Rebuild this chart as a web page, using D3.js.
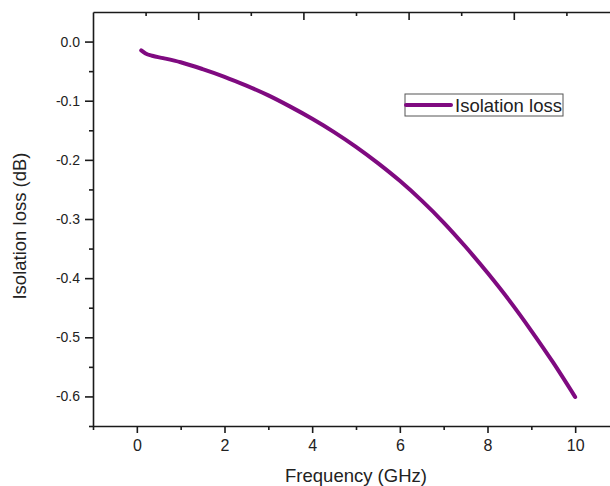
<!DOCTYPE html>
<html>
<head>
<meta charset="utf-8">
<script src="https://cdn.jsdelivr.net/npm/d3@7"></script>
<style>
  html, body { margin: 0; padding: 0; background: #fff; }
  svg { display: block; font-family: Arial, "Liberation Sans", sans-serif; }
</style>
</head>
<body>
<svg id="chart" width="610" height="486"></svg>
<script>
// Isolation loss vs. frequency
const freqGHz = [0.1, 0.2, 0.35, 0.6, 1.0, 1.5, 2.0, 2.5, 3.0, 3.5, 4.0, 4.5, 5.0, 5.5, 6.0, 6.5, 7.0, 7.5, 8.0, 8.5, 9.0, 9.5, 10.0];
const isolationDb = [-0.015, -0.020, -0.024, -0.028, -0.035, -0.0465, -0.0595, -0.0745, -0.091, -0.110, -0.1305, -0.153, -0.178, -0.2055, -0.2355, -0.269, -0.306, -0.347, -0.391, -0.438, -0.489, -0.543, -0.601];

const xMajorTicks = [0, 2, 4, 6, 8, 10];
const xMinorTicks = [-1, 1, 3, 5, 7, 9, 11];
const yMajorTicks = [0.0, -0.1, -0.2, -0.3, -0.4, -0.5, -0.6];
const yMinorTicks = [-0.05, -0.15, -0.25, -0.35, -0.45, -0.55, -0.65];
const topMajorTicks = [2, 4, 6, 8, 10];
const topMinorTicks = [1, 3, 5, 7, 9];

const seriesName = "Isolation loss";
const xTitle = "Frequency (GHz)";
const yTitle = "Isolation loss (dB)";

const svg = d3.select("#chart");
const plotLeft = 93, plotRight = 619, plotTop = 12, plotBottom = 426;
const ink = "#1a1a1a";
const purple = "#7f0a80";

const x = d3.scaleLinear().domain([-1, 11]).range([plotLeft, plotRight]);
const xTop = d3.scaleLinear().domain([0, 10]).range([plotLeft, plotRight]);
const y = d3.scaleLinear().domain([-0.65, 0.05]).range([plotBottom, plotTop]);

// plain hyphen for negative numbers
const fmtY = d => d3.format(".1f")(d).replace("\u2212", "-");

function styleAxis(g, fontSize) {
  g.select(".domain").attr("stroke", ink).attr("stroke-width", 1.6);
  g.selectAll(".tick line").attr("stroke", ink).attr("stroke-width", 1.6);
  g.selectAll(".tick text").attr("fill", "#222").attr("font-size", fontSize)
    .attr("font-family", "Arial, 'Liberation Sans', sans-serif");
}

// bottom axis
svg.append("g").attr("transform", `translate(0,${plotBottom})`)
  .call(d3.axisBottom(x).tickValues(xMajorTicks).tickFormat(d3.format("d"))
    .tickSize(7).tickSizeOuter(0).tickPadding(7))
  .call(g => styleAxis(g, 16));
svg.append("g").attr("transform", `translate(0,${plotBottom})`)
  .call(d3.axisBottom(x).tickValues(xMinorTicks).tickFormat("").tickSize(4).tickSizeOuter(0))
  .call(g => { styleAxis(g, 16); g.select(".domain").remove(); });

// top axis (ticks pointing inward)
svg.append("g").attr("transform", `translate(0,${plotTop})`)
  .call(d3.axisTop(xTop).tickValues(topMajorTicks).tickFormat("").tickSize(-8).tickSizeOuter(0))
  .call(g => styleAxis(g, 16));
svg.append("g").attr("transform", `translate(0,${plotTop})`)
  .call(d3.axisTop(xTop).tickValues(topMinorTicks).tickFormat("").tickSize(-4).tickSizeOuter(0))
  .call(g => { styleAxis(g, 16); g.select(".domain").remove(); });

// left axis
svg.append("g").attr("transform", `translate(${plotLeft},0)`)
  .call(d3.axisLeft(y).tickValues(yMajorTicks).tickFormat(fmtY)
    .tickSize(8).tickSizeOuter(0).tickPadding(5))
  .call(g => styleAxis(g, 14));
svg.append("g").attr("transform", `translate(${plotLeft},0)`)
  .call(d3.axisLeft(y).tickValues(yMinorTicks).tickFormat("").tickSize(4).tickSizeOuter(0))
  .call(g => { styleAxis(g, 14); g.select(".domain").remove(); });

// curve
const line = d3.line().x((d, i) => x(freqGHz[i])).y(d => y(d)).curve(d3.curveMonotoneX);
svg.append("path").datum(isolationDb)
  .attr("d", line)
  .attr("fill", "none")
  .attr("stroke", purple)
  .attr("stroke-width", 4)
  .attr("stroke-linecap", "round")
  .attr("stroke-linejoin", "round");

// axis titles
svg.append("text")
  .attr("x", (plotLeft + plotRight) / 2).attr("y", 482)
  .attr("text-anchor", "middle").attr("font-size", 18.5).attr("fill", "#222")
  .text(xTitle);
svg.append("text")
  .attr("transform", `translate(26,226) rotate(-90)`)
  .attr("text-anchor", "middle").attr("font-size", 18.5).attr("fill", "#222")
  .text(yTitle);

// legend
const lg = svg.append("g").attr("transform", "translate(405,94)");
lg.append("rect").attr("width", 158).attr("height", 22)
  .attr("fill", "#fff").attr("stroke", "#555").attr("stroke-width", 1);
lg.append("line").attr("x1", 1).attr("x2", 46).attr("y1", 11).attr("y2", 11)
  .attr("stroke", purple).attr("stroke-width", 4).attr("stroke-linecap", "round");
lg.append("text").attr("x", 50).attr("y", 17.5)
  .attr("font-size", 18.5).attr("fill", "#222").text(seriesName);
</script>
</body>
</html>
